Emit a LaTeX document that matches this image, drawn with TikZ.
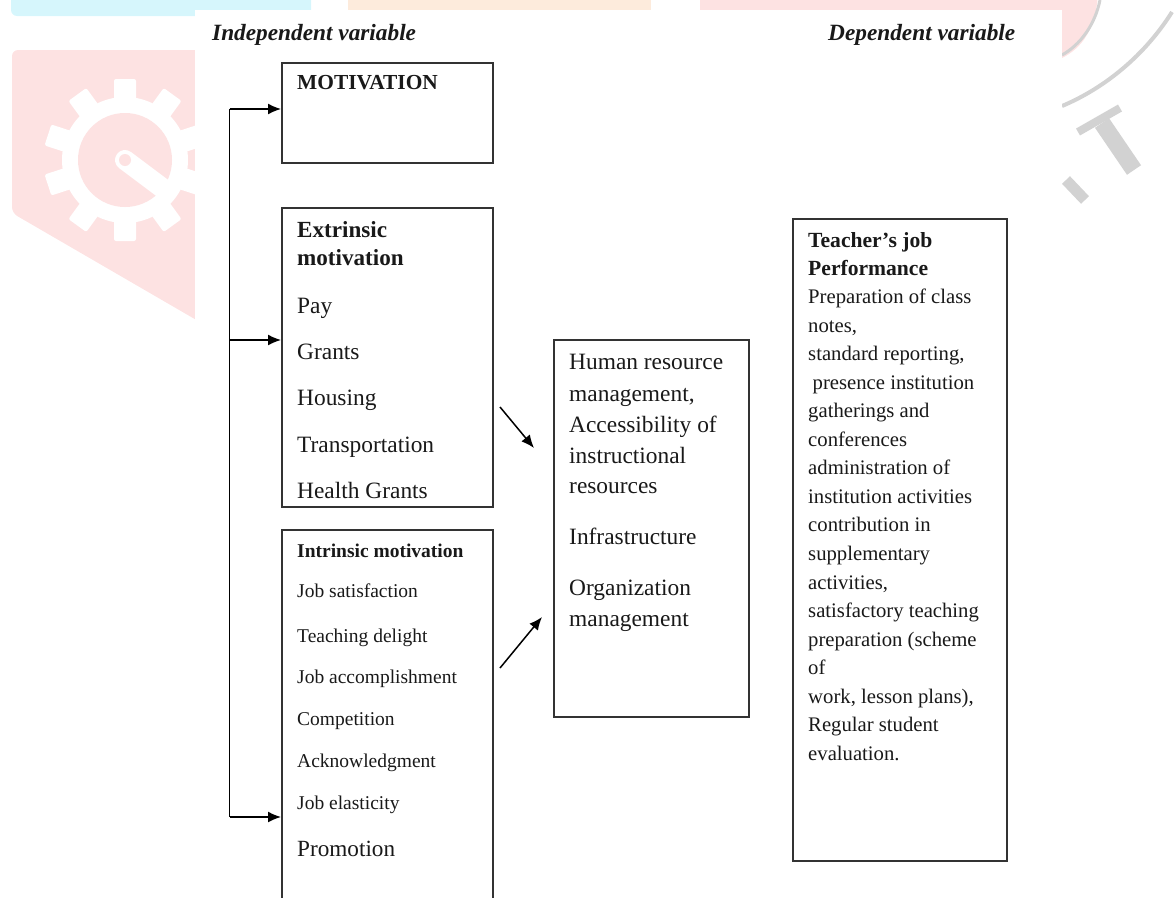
\documentclass[tikz,border=0pt]{standalone}
\usepackage{fontspec}
\setmainfont{Liberation Serif}
\usetikzlibrary{arrows.meta}
\definecolor{wmcyan}{HTML}{D6F6FC}
\definecolor{wmpink}{HTML}{FDE2E2}
\definecolor{wmorange}{HTML}{FDEBDC}
\definecolor{wmgrey}{HTML}{D2D2D2}
\definecolor{boxline}{HTML}{333333}
\begin{document}
\begin{tikzpicture}[x=1pt,y=-1pt,
  box/.style={draw=boxline, line width=1.5pt, inner sep=0pt, anchor=north west},
  txt/.style={anchor=base west, inner sep=0pt, text=black!90},
  big/.style={txt, font=\fontsize{23.4}{28}\selectfont},
  mid/.style={txt, font=\fontsize{19.5}{24}\selectfont},
  rtx/.style={txt, font=\fontsize{20.7}{25}\selectfont},
  head/.style={txt, font=\fontsize{23.3}{28}\selectfont\bfseries\itshape},
  arr/.style={draw=black, line width=1.5pt, -{Latex[length=13pt,width=11pt]}},
  line/.style={draw=black, line width=1.5pt}
]
\useasboundingbox (0,0) rectangle (1174,897);
% ---------- watermark (background) ----------
\fill[wmcyan, rounded corners=6pt] (11,-20) rectangle (311,16);
\fill[wmorange] (348,-5) rectangle (651,10);
\fill[wmpink] (700,-5) rectangle (1062,10);
\fill[wmpink] (1062,-5) -- (1098,-5) .. controls (1095,30) and (1082,48) .. (1062,58) -- cycle;
\draw[wmgrey, line width=4pt] (1172,12) .. controls (1145,55) and (1105,88) .. (1062,106);
\draw[wmgrey, line width=3pt] (1100,0) .. controls (1095,25) and (1080,45) .. (1062,55);
\draw[wmgrey, line width=8pt] (1078,132) -- (1120,108);
\draw[wmgrey, line width=17pt] (1102,123) -- (1134,170);
\draw[wmgrey, line width=11pt] (1066,180) -- (1085,200);
\fill[wmpink, rounded corners=6pt] (12,50) -- (205,50) -- (205,325) -- (12,213) -- cycle;
\fill[white] (125,160) circle (63);
\foreach \a in {0,36,...,324}
  \fill[white, rounded corners=2pt, rotate around={\a:(125,160)}] (114,79) rectangle (136,100);
\fill[wmpink] (125,160) circle (47);
\draw[white, line width=20pt, line cap=round] (125,160) -- (165,190);
\fill[wmpink] (125,160) circle (6);
% white page
\fill[white] (195,10) rectangle (1062,900);
% ---------- headers ----------
\node[head] (indep) at (212,40) {Independent variable};
\node[head] (dep) at (828,40) {Dependent variable};
% ---------- boxes ----------
\node[box, minimum width=211pt, minimum height=100pt] (mot) at (281,62) {};
\node[box, minimum width=211pt, minimum height=299pt] (ext) at (281,207) {};
\node[box, minimum width=211pt, minimum height=400pt] (intr) at (281,529) {};
\node[box, minimum width=195pt, minimum height=377pt] (medi) at (553,339) {};
\node[box, minimum width=214pt, minimum height=642pt] (perf) at (792,218) {};
% ---------- texts ----------
\node[txt, font=\fontsize{21.4}{26}\selectfont\bfseries] (motT) at (297,89) {MOTIVATION};
\node[txt, font=\fontsize{23.1}{28}\selectfont\bfseries] (extT1) at (297,237) {Extrinsic};
\node[txt, font=\fontsize{23.1}{28}\selectfont\bfseries] (extT2) at (297,265) {motivation};
\node[big] (e1) at (297,313) {Pay};
\node[big] (e2) at (297,359) {Grants};
\node[big] (e3) at (297,405) {Housing};
\node[big] (e4) at (297,452) {Transportation};
\node[big] (e5) at (297,498) {Health Grants};
\node[txt, font=\fontsize{19.5}{24}\selectfont\bfseries] (inT) at (297,557) {Intrinsic motivation};
\node[mid] (i1) at (297,597) {Job satisfaction};
\node[mid] (i2) at (297,642) {Teaching delight};
\node[mid] (i3) at (297,683) {Job accomplishment};
\node[mid] (i4) at (297,725) {Competition};
\node[mid] (i5) at (297,767) {Acknowledgment};
\node[mid] (i6) at (297,809) {Job elasticity};
\node[txt, font=\fontsize{23.2}{28}\selectfont] (i7) at (297,856) {Promotion};
\node[big] (m1) at (569,369) {Human resource};
\node[big] (m2) at (569,401) {management,};
\node[big] (m3) at (569,432) {Accessibility of};
\node[big] (m4) at (569,463) {instructional};
\node[big] (m5) at (569,493) {resources};
\node[big] (m6) at (569,544) {Infrastructure};
\node[big] (m7) at (569,595) {Organization};
\node[big] (m8) at (569,626) {management};
\node[txt, font=\fontsize{21.6}{26}\selectfont\bfseries] (pT1) at (808,247) {Teacher’s job};
\node[txt, font=\fontsize{21.6}{26}\selectfont\bfseries] (pT2) at (808,275) {Performance};
\foreach \t [count=\i] in {Preparation of class, {notes,}, {standard reporting,}, {\hspace{4.5pt}presence institution}, gatherings and, conferences, administration of, institution activities, contribution in, supplementary, {activities,}, satisfactory teaching, preparation (scheme, of, {work, lesson plans),}, Regular student, evaluation.}
  \node[rtx] (p\i) at (808,{303.5+(\i-1)*28.55}) {\t};
% ---------- connectors ----------
\coordinate (tTop) at (229.5,109);
\coordinate (tMid) at (229.5,340);
\coordinate (tBot) at (229.5,817);
\draw[line] (tTop) -- (tBot);
\draw[arr] (tTop) -- (tTop -| mot.west);
\draw[arr] (tMid) -- (tMid -| ext.west);
\draw[arr] (tBot) -- (tBot -| intr.west);
\coordinate (d1s) at (500,407);
\coordinate (d1e) at (534,448);
\coordinate (d2s) at (500,668);
\coordinate (d2e) at (542,617);
\draw[arr] (d1s) -- (d1e);
\draw[arr] (d2s) -- (d2e);
\end{tikzpicture}
\end{document}
